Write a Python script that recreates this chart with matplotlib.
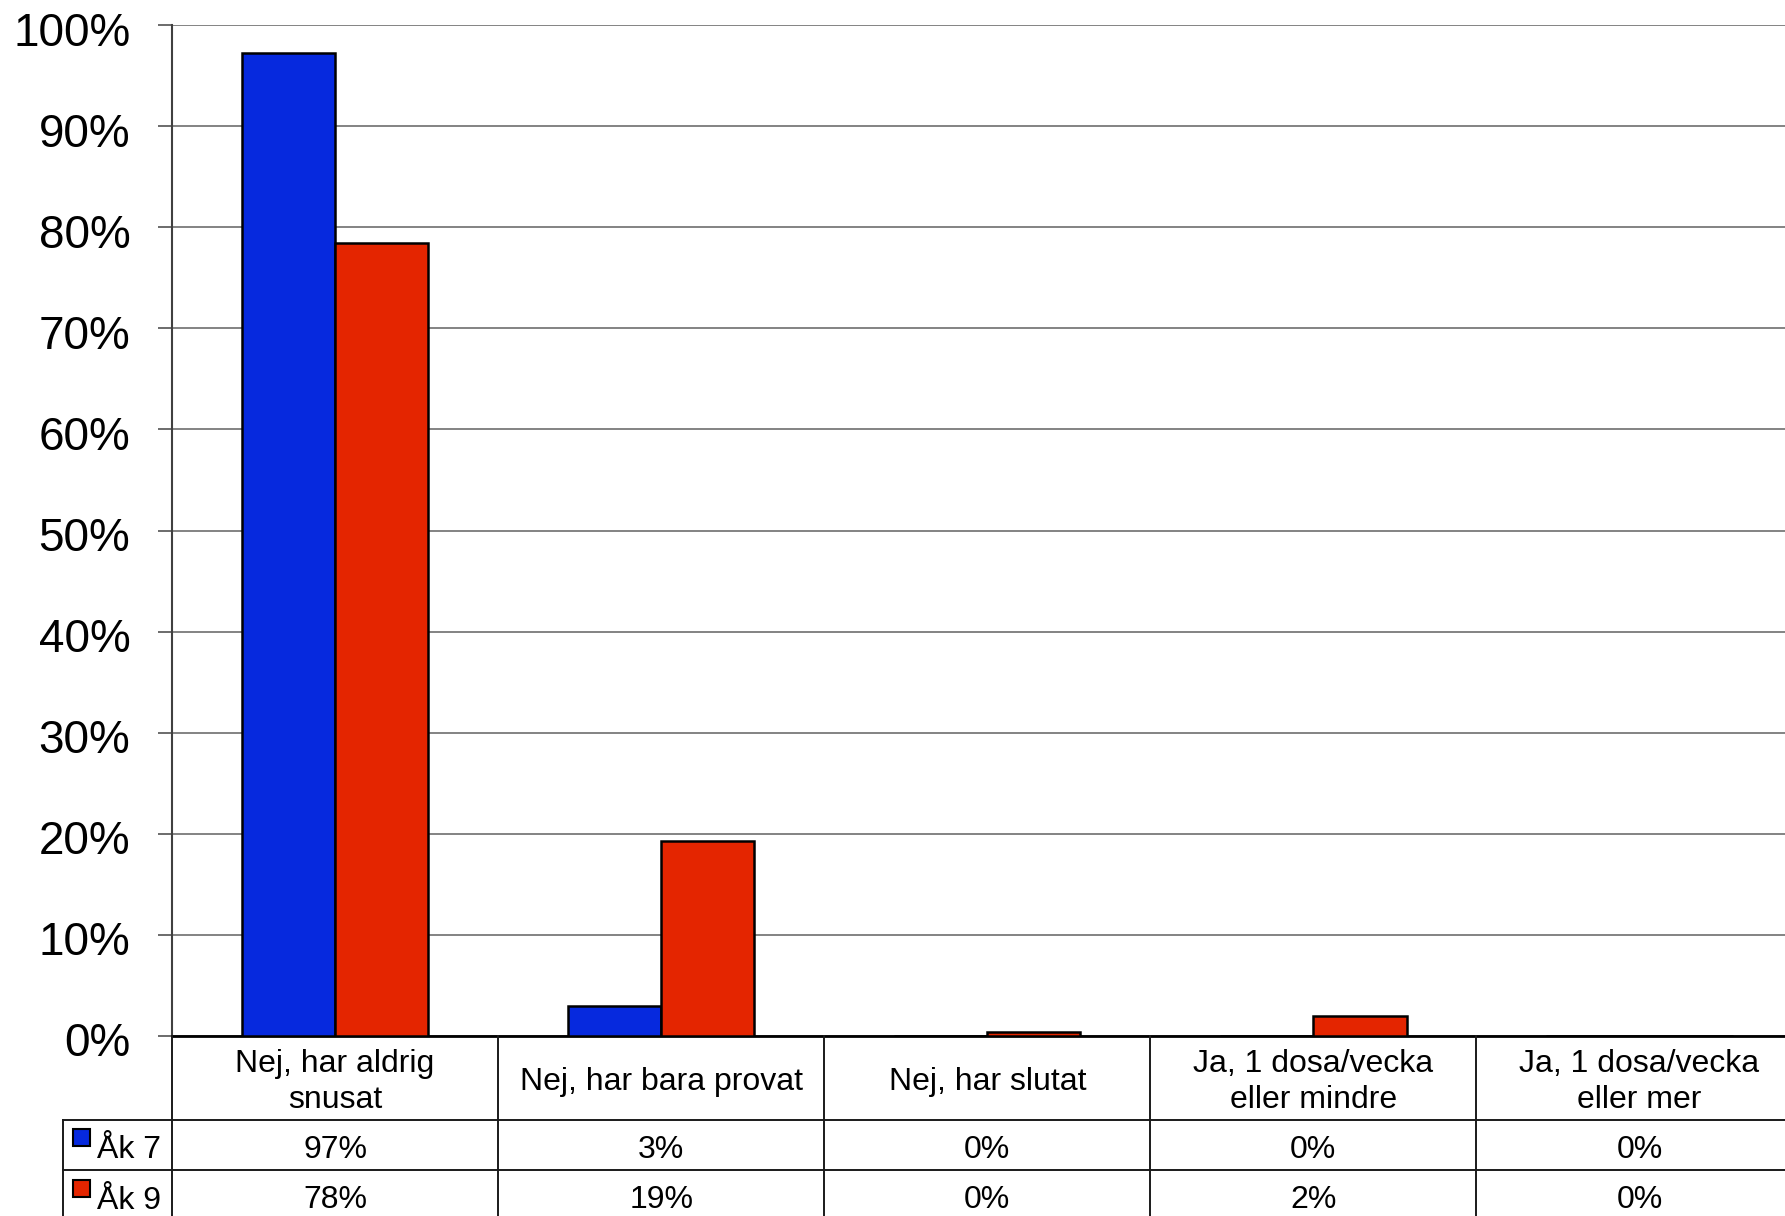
import matplotlib
matplotlib.use("Agg")
import matplotlib.pyplot as plt
from matplotlib.patches import Rectangle
from matplotlib.lines import Line2D
from matplotlib.transforms import blended_transform_factory, ScaledTranslation

plt.rcParams['font.family'] = ['Liberation Sans', 'DejaVu Sans']

categories = ["Nej, har aldrig\nsnusat", "Nej, har bara provat", "Nej, har slutat",
              "Ja, 1 dosa/vecka\neller mindre", "Ja, 1 dosa/vecka\neller mer"]
series_names = ["Åk 7", "Åk 9"]
ak7 = [97.2, 3.0, 0.0, 0.0, 0.0]
ak9 = [78.4, 19.3, 0.4, 2.0, 0.0]
table_ak7 = ["97%", "3%", "0%", "0%", "0%"]
table_ak9 = ["78%", "19%", "0%", "2%", "0%"]
yticks = [0, 10, 20, 30, 40, 50, 60, 70, 80, 90, 100]

colors = ["#0629DE", "#E42500"]

W, H = 1785, 1216
fig = plt.figure(figsize=(W / 100, H / 100), dpi=100)

left_px, top_px, base_px = 172, 25, 1036
cat_w_px = 326.1
n = len(categories)
ax_w_px = cat_w_px * n
ax = fig.add_axes([left_px / W, 1 - base_px / H, ax_w_px / W, (base_px - top_px) / H])

bw = 0.2857
x = list(range(n))
ax.bar([i - bw / 2 for i in x], ak7, width=bw, color=colors[0], edgecolor="black", linewidth=1.8, zorder=3)
ax.bar([i + bw / 2 for i in x], ak9, width=bw, color=colors[1], edgecolor="black", linewidth=1.8, zorder=3)

ax.set_xlim(-0.5, n - 0.5)
ax.set_ylim(0, 100)
ax.set_yticks(yticks)
ax.set_yticklabels([f"{t}%" for t in yticks], fontsize=33)
ax.tick_params(axis="y", length=10, width=1.3, color="#606060", pad=20)
shift = ScaledTranslation(0, -0.035, fig.dpi_scale_trans)
for lab in ax.get_yticklabels():
    lab.set_transform(lab.get_transform() + shift)
ax.set_xticks([])
ax.yaxis.grid(True, color="#7a7a7a", linewidth=1.3, zorder=0)
ax.set_axisbelow(True)
for s in ["top", "right"]:
    ax.spines[s].set_visible(False)
ax.spines["left"].set_color("#404040")
ax.spines["left"].set_linewidth(1.5)
ax.spines["bottom"].set_color("black")
ax.spines["bottom"].set_linewidth(2)

# table
tr = blended_transform_factory(ax.transData, fig.transFigure)

def fy(py):
    return 1 - py / H

def px_to_data(px):
    return -0.5 + (px - left_px) / cat_w_px

row_h1 = 1120
row_h2 = 1170
row_h3 = 1222
lab_left = px_to_data(62.6)
right = n - 0.5 + 0.2
lc = "#1a1a1a"
lw = 1.4

for xv in [-0.5 + k for k in range(n)]:
    fig.add_artist(Line2D([xv, xv], [fy(base_px), fy(row_h3)], transform=tr, color=lc, lw=lw))
fig.add_artist(Line2D([lab_left, lab_left], [fy(row_h1), fy(row_h3)], transform=tr, color=lc, lw=lw))
for yv in [row_h1, row_h2]:
    fig.add_artist(Line2D([lab_left, right], [fy(yv), fy(yv)], transform=tr, color=lc, lw=lw))

fs = 23
for i, c in enumerate(categories):
    fig.text(i, fy((base_px + row_h1) / 2 + 4), c, transform=tr, ha="center", va="center",
             fontsize=fs, linespacing=1.3)
for i in range(n):
    fig.text(i, fy((row_h1 + row_h2) / 2 + 5), table_ak7[i], transform=tr, ha="center", va="center", fontsize=fs)
    fig.text(i, fy((row_h2 + row_h3) / 2 + 4), table_ak9[i], transform=tr, ha="center", va="center", fontsize=fs)

for (r0, r1), name, col in zip([(row_h1, row_h2), (row_h2, row_h3)], series_names, colors):
    cy = (r0 + r1) / 2
    sq = 17
    fig.add_artist(Rectangle((73 / W, fy(cy + 1)), sq / W, sq / H, transform=fig.transFigure,
                             facecolor=col, edgecolor="black", linewidth=1.5))
    fig.text(97 / W, fy(cy + 5), name, ha="left", va="center", fontsize=fs)

fig.savefig("out.png", dpi=100)
